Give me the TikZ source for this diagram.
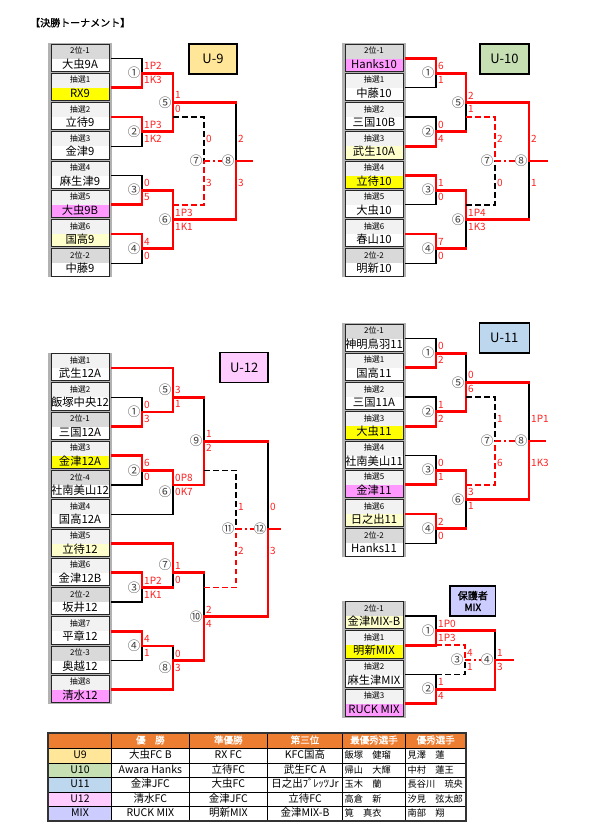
\documentclass[tikz,border=0pt]{standalone}
\usepackage{fontspec}
\setmainfont{Noto Sans CJK JP}
\newfontfamily\jbold{Noto Sans CJK JP}[FakeBold=1.2]

\definecolor{lbA}{HTML}{F2F2F2}
\definecolor{lbB}{HTML}{D9D9D9}
\definecolor{tyel}{HTML}{FFFF00}
\definecolor{tpnk}{HTML}{FF99FF}
\definecolor{tcrm}{HTML}{FFFFCC}
\definecolor{scred}{HTML}{FF2020}
\definecolor{cu9}{HTML}{FFE699}
\definecolor{cu10}{HTML}{C6E0B4}
\definecolor{cu11}{HTML}{BDD7EE}
\definecolor{cu12}{HTML}{FFCCFF}
\definecolor{cmix}{HTML}{CCCCFF}
\definecolor{hdr}{HTML}{ED7D31}

\tikzset{
  lbl/.style={anchor=north, minimum width=58pt, minimum height=14.5pt, inner sep=0pt, outer xsep=3pt, outer ysep=0pt, font=\fontsize{8}{8.5}\selectfont, text height=5.8pt, text depth=1pt},
  nm/.style={anchor=north, minimum width=58pt, minimum height=12.75pt, inner sep=0pt, outer xsep=3pt, outer ysep=0pt, font=\fontsize{11.3}{12}\selectfont, text height=8pt, text depth=1.5pt},
  blk/.style={draw=black!85, line width=0.7pt},
  col/.style={fill=gray!60},
  ln/.style={draw=black, line width=1.2pt, line cap=rect},
  wn/.style={draw=red, line width=2.8pt, line cap=rect},
  dl/.style={draw=black, line width=1.7pt, dash pattern=on 5.5pt off 3.5pt},
  dw/.style={draw=red, line width=1.7pt, dash pattern=on 5.5pt off 3.5pt},
  lk/.style={draw=red, line width=1.7pt, dash pattern=on 6pt off 3pt on 1.5pt off 3pt},
  sc/.style={anchor=west, text=scred, inner sep=0pt, font=\fontsize{10}{10}\selectfont},
  mno/.style={anchor=east, inner sep=0pt, text=black!75, font=\fontsize{12.5}{12.5}\selectfont},
  ttl/.style={draw=black, line width=1.5pt, minimum height=30pt, inner sep=0pt, font=\fontsize{13}{13}\selectfont},
  tg/.style={draw=black, line width=0.6pt},
  tb/.style={draw=black!80, line width=2pt},
  th/.style={inner sep=0pt, text=white, font=\jbold\fontsize{9.5}{10}\selectfont, text height=7pt, text depth=1.5pt},
  td/.style={inner sep=0pt, font=\fontsize{10.5}{11}\selectfont, text height=7.5pt, text depth=1.5pt},
  tn/.style={anchor=west, inner sep=0pt, font=\fontsize{9.2}{10}\selectfont, text height=7.5pt, text depth=1.5pt},
}

\begin{document}
\begin{tikzpicture}[x=1pt, y=-1pt]
\useasboundingbox (0,0) rectangle (592,833);

\node[anchor=west, inner sep=0pt, font=\jbold\fontsize{10}{10}\selectfont] (head) at (30,22.7) {【決勝トーナメント】};

% ---------- U-9 ----------
\fill[col] (48,43) rectangle (112,277);
\foreach \lab/\nm/\lf/\nf [count=\i] in {2位-1/大虫9A/lbB/white, 抽選1/RX9/lbA/tyel, 抽選2/立待9/lbA/white, 抽選3/金津9/lbA/white, 抽選4/麻生津9/lbA/white, 抽選5/大虫9B/lbA/tpnk, 抽選6/国高9/lbA/tcrm, 2位-2/中藤9/lbB/white}{
  \pgfmathsetmacro\tp{43+29.25*(\i-1)}
  \node[lbl, fill=\lf] (u9l\i) at (80,{\tp+1}) {\lab};
  \node[nm, fill=\nf] (u9t\i) at (80,{\tp+15.5}) {\nm};
  \draw[blk] (51,{\tp+1}) rectangle (109,{\tp+28.25});
}
\node[ttl, fill=cu9, minimum width=48pt] (u9hd) at (213,59) {U-9};
\coordinate (u9j1) at (142,73.1);
\coordinate (u9j2) at (142,131.6);
\coordinate (u9j3) at (142,190.1);
\coordinate (u9j4) at (142,248.6);
\coordinate (u9j5) at (173,102.4);
\coordinate (u9j6) at (173,219.4);
\coordinate (u9j7) at (204,160.9);
\coordinate (u9j8) at (236,160.9);
\coordinate (u9q5) at (173,117);
\coordinate (u9q6) at (173,204.75);
\coordinate (u9e) at (252,160.9);
\draw[ln] (u9t1.north east) -| (u9j1);
\draw[ln] (u9t4.north east) -| (u9j2);
\draw[ln] (u9t5.north east) -| (u9j3);
\draw[ln] (u9t8.north east) -| (u9j4);
\draw[ln] (u9j5 -| u9j8) -- (u9j8);
\draw[wn] (u9t2.north east) -| (u9j1);
\draw[wn] (u9t3.north east) -| (u9j2);
\draw[wn] (u9t6.north east) -| (u9j3);
\draw[wn] (u9t7.north east) -| (u9j4);
\draw[wn] (u9j1) -| (u9j5);
\draw[wn] (u9j2) -| (u9j5);
\draw[wn] (u9j3) -| (u9j6);
\draw[wn] (u9j4) -| (u9j6);
\draw[wn] (u9j5) -- (u9j5 -| u9j8);
\draw[wn] (u9j6) -| (u9j8);
\draw[wn] (u9j8) -- (u9e);
\draw[dl] (u9q5) -| (u9j7);
\draw[dw] (u9q6) -| (u9j7);
\foreach \j/\g in {1/①, 2/②, 3/③, 4/④, 5/⑤, 6/⑥, 7/⑦, 8/⑧}
  \node[mno] (u9m\j) at ([xshift=-1.5pt]u9j\j) {\g};
\draw[lk] (u9j7) -- (u9m8.west);
\foreach \j/\a/\b/\d in {1/1P2/1K3/7, 2/1P3/1K2/7, 3/0/5/7, 4/4/0/7, 5/1/0/7, 6/1P3/1K1/7, 7/0/3/22, 8/2/3/22}{
  \node[sc] (u9a\j) at ([xshift=2pt,yshift=\d pt]u9j\j) {\a};
  \node[sc] (u9b\j) at ([xshift=2pt,yshift=-\d pt]u9j\j) {\b};
}

% ---------- U-10 ----------
\fill[col] (342,43) rectangle (406,277);
\foreach \lab/\nm/\lf/\nf [count=\i] in {2位-1/Hanks10/lbB/tpnk, 抽選1/中藤10/lbA/white, 抽選2/三国10B/lbA/white, 抽選3/武生10A/lbA/tcrm, 抽選4/立待10/lbA/tyel, 抽選5/大虫10/lbA/white, 抽選6/春山10/lbA/white, 2位-2/明新10/lbB/white}{
  \pgfmathsetmacro\tp{43+29.25*(\i-1)}
  \node[lbl, fill=\lf] (u10l\i) at (374,{\tp+1}) {\lab};
  \node[nm, fill=\nf] (u10t\i) at (374,{\tp+15.5}) {\nm};
  \draw[blk] (345,{\tp+1}) rectangle (403,{\tp+28.25});
}
\node[ttl, fill=cu10, minimum width=49pt] (u10hd) at (504.5,59) {U-10};
\coordinate (u10j1) at (436,73.1);
\coordinate (u10j2) at (436,131.6);
\coordinate (u10j3) at (436,190.1);
\coordinate (u10j4) at (436,248.6);
\coordinate (u10j5) at (466,102.4);
\coordinate (u10j6) at (466,219.4);
\coordinate (u10j7) at (495,160.9);
\coordinate (u10j8) at (529,160.9);
\coordinate (u10q5) at (466,117);
\coordinate (u10q6) at (466,204.75);
\coordinate (u10e) at (547,160.9);
\draw[ln] (u10t2.north east) -| (u10j1);
\draw[ln] (u10t3.north east) -| (u10j2);
\draw[ln] (u10t6.north east) -| (u10j3);
\draw[ln] (u10t8.north east) -| (u10j4);
\draw[ln] (u10j2 -| u10j5) -- (u10j5);
\draw[ln] (u10j4 -| u10j6) -- (u10j6);
\draw[ln] (u10j6 -| u10j8) -- (u10j8);
\draw[wn] (u10t1.north east) -| (u10j1);
\draw[wn] (u10t4.north east) -| (u10j2);
\draw[wn] (u10t5.north east) -| (u10j3);
\draw[wn] (u10t7.north east) -| (u10j4);
\draw[wn] (u10j1) -| (u10j5);
\draw[wn] (u10j2) -- (u10j2 -| u10j5);
\draw[wn] (u10j3) -| (u10j6);
\draw[wn] (u10j4) -- (u10j4 -| u10j6);
\draw[wn] (u10j5) -| (u10j8);
\draw[wn] (u10j6) -- (u10j6 -| u10j8);
\draw[wn] (u10j8) -- (u10e);
\draw[dl] (u10q6) -| (u10j7);
\draw[dw] (u10q5) -| (u10j7);
\foreach \j/\g in {1/①, 2/②, 3/③, 4/④, 5/⑤, 6/⑥, 7/⑦, 8/⑧}
  \node[mno] (u10m\j) at ([xshift=-1.5pt]u10j\j) {\g};
\draw[lk] (u10j7) -- (u10m8.west);
\foreach \j/\a/\b/\d in {1/6/1/7, 2/0/4/7, 3/1/0/7, 4/7/0/7, 5/2/1/7, 6/1P4/1K3/7, 7/2/0/22, 8/2/1/22}{
  \node[sc] (u10a\j) at ([xshift=2pt,yshift=\d pt]u10j\j) {\a};
  \node[sc] (u10b\j) at ([xshift=2pt,yshift=-\d pt]u10j\j) {\b};
}

% ---------- U-12 ----------
\fill[col] (48,352.5) rectangle (112,703.5);
\foreach \lab/\nm/\lf/\nf [count=\i] in {抽選1/武生12A/lbA/white, 抽選2/飯塚中央12/lbA/white, 2位-1/三国12A/lbB/white, 抽選3/金津12A/lbA/tyel, 2位-4/社南美山12/lbB/white, 抽選4/国高12A/lbA/white, 抽選5/立待12/lbA/tcrm, 抽選6/金津12B/lbA/white, 2位-2/坂井12/lbB/white, 抽選7/平章12/lbA/white, 2位-3/奥越12/lbB/white, 抽選8/清水12/lbA/tpnk}{
  \pgfmathsetmacro\tp{352.5+29.25*(\i-1)}
  \node[lbl, fill=\lf] (u12l\i) at (80,{\tp+1}) {\lab};
  \node[nm, fill=\nf] (u12t\i) at (80,{\tp+15.5}) {\nm};
  \draw[blk] (51,{\tp+1}) rectangle (109,{\tp+28.25});
}
\node[ttl, fill=cu12, minimum width=48pt] (u12hd) at (244.2,367.7) {U-12};
\coordinate (u12j1) at (142,411.9);
\coordinate (u12j2) at (142,470.4);
\coordinate (u12j3) at (142,587.4);
\coordinate (u12j4) at (142,645.9);
\coordinate (u12j5) at (173,397.25);
\coordinate (u12j6) at (173,485);
\coordinate (u12j7) at (173,572.75);
\coordinate (u12j8) at (173,660.5);
\coordinate (u12j9) at (204,441.1);
\coordinate (u12j10) at (204,616.6);
\coordinate (u12j11) at (236,528.9);
\coordinate (u12j12) at (268,528.9);
\coordinate (u12q9) at (204,470.4);
\coordinate (u12q10) at (204,587.4);
\coordinate (u12e) at (280,528.9);
\draw[ln] (u12t2.north east) -| (u12j1);
\draw[ln] (u12t5.north east) -| (u12j2);
\draw[ln] (u12t6.north east) -| (u12j6);
\draw[ln] (u12t9.north east) -| (u12j3);
\draw[ln] (u12t11.north east) -| (u12j4);
\draw[ln] (u12j3 -| u12j7) -- (u12j7);
\draw[ln] (u12j4 -| u12j8) -- (u12j8);
\draw[ln] (u12j5 -| u12j9) -- (u12j9);
\draw[ln] (u12j7 -| u12j10) -- (u12j10);
\draw[ln] (u12j9 -| u12j12) -- (u12j12);
\draw[wn] (u12t1.north east) -| (u12j5);
\draw[wn] (u12t3.north east) -| (u12j1);
\draw[wn] (u12t4.north east) -| (u12j2);
\draw[wn] (u12t7.north east) -| (u12j7);
\draw[wn] (u12t8.north east) -| (u12j3);
\draw[wn] (u12t10.north east) -| (u12j4);
\draw[wn] (u12t12.north east) -| (u12j8);
\draw[wn] (u12j1) -| (u12j5);
\draw[wn] (u12j2) -| (u12j6);
\draw[wn] (u12j3) -- (u12j3 -| u12j7);
\draw[wn] (u12j4) -- (u12j4 -| u12j8);
\draw[wn] (u12j5) -- (u12j5 -| u12j9);
\draw[wn] (u12j6) -| (u12j9);
\draw[wn] (u12j7) -- (u12j7 -| u12j10);
\draw[wn] (u12j8) -| (u12j10);
\draw[wn] (u12j9) -- (u12j9 -| u12j12);
\draw[wn] (u12j10) -| (u12j12);
\draw[wn] (u12j12) -- (u12e);
\draw[dl] (u12q9) -| (u12j11);
\draw[dw] (u12q10) -| (u12j11);
\foreach \j/\g/\dy in {1/①/0, 2/②/0, 3/③/0, 4/④/0, 5/⑤/8, 6/⑥/-7, 7/⑦/8, 8/⑧/-7, 9/⑨/0, 10/⑩/0, 11/⑪/0, 12/⑫/0}
  \node[mno] (u12m\j) at ([xshift=-1.5pt,yshift=\dy pt]u12j\j) {\g};
\draw[lk] (u12j11) -- (u12m12.west);
\foreach \j/\a/\b/\d in {1/0/3/7, 2/6/0/7, 3/1P2/1K1/7, 4/4/1/7, 5/3/1/7, 6/0P8/0K7/7, 7/1/0/7, 8/0/3/7, 9/1/2/7, 10/2/4/7, 11/1/2/22, 12/0/3/22}{
  \node[sc] (u12a\j) at ([xshift=2pt,yshift=\d pt]u12j\j) {\a};
  \node[sc] (u12b\j) at ([xshift=2pt,yshift=-\d pt]u12j\j) {\b};
}

% ---------- U-11 ----------
\fill[col] (342,323) rectangle (406,557);
\foreach \lab/\nm/\lf/\nf [count=\i] in {2位-1/神明鳥羽11/lbB/white, 抽選1/国高11/lbA/white, 抽選2/三国11A/lbA/white, 抽選3/大虫11/lbA/tyel, 抽選4/社南美山11/lbA/white, 抽選5/金津11/lbA/tpnk, 抽選6/日之出11/lbA/tcrm, 2位-2/Hanks11/lbB/white}{
  \pgfmathsetmacro\tp{323+29.25*(\i-1)}
  \node[lbl, fill=\lf] (u11l\i) at (374,{\tp+1}) {\lab};
  \node[nm, fill=\nf] (u11t\i) at (374,{\tp+15.5}) {\nm};
  \draw[blk] (345,{\tp+1}) rectangle (403,{\tp+28.25});
}
\node[ttl, fill=cu11, minimum width=50pt] (u11hd) at (504.3,338) {U-11};
\coordinate (u11j1) at (436,353.1);
\coordinate (u11j2) at (436,411.6);
\coordinate (u11j3) at (436,470.1);
\coordinate (u11j4) at (436,528.6);
\coordinate (u11j5) at (466,382.4);
\coordinate (u11j6) at (466,499.4);
\coordinate (u11j7) at (495,440.9);
\coordinate (u11j8) at (529,440.9);
\coordinate (u11q5) at (466,397);
\coordinate (u11q6) at (466,484.8);
\coordinate (u11e) at (545,440.9);
\draw[ln] (u11t1.north east) -| (u11j1);
\draw[ln] (u11t3.north east) -| (u11j2);
\draw[ln] (u11t5.north east) -| (u11j3);
\draw[ln] (u11t8.north east) -| (u11j4);
\draw[ln] (u11j1 -| u11j5) -- (u11j5);
\draw[ln] (u11j4 -| u11j6) -- (u11j6);
\draw[ln] (u11j5 -| u11j8) -- (u11j8);
\draw[wn] (u11t2.north east) -| (u11j1);
\draw[wn] (u11t4.north east) -| (u11j2);
\draw[wn] (u11t6.north east) -| (u11j3);
\draw[wn] (u11t7.north east) -| (u11j4);
\draw[wn] (u11j1) -- (u11j1 -| u11j5);
\draw[wn] (u11j2) -| (u11j5);
\draw[wn] (u11j3) -| (u11j6);
\draw[wn] (u11j4) -- (u11j4 -| u11j6);
\draw[wn] (u11j5) -- (u11j5 -| u11j8);
\draw[wn] (u11j6) -| (u11j8);
\draw[wn] (u11j8) -- (u11e);
\draw[dl] (u11q5) -| (u11j7);
\draw[dw] (u11q6) -| (u11j7);
\foreach \j/\g in {1/①, 2/②, 3/③, 4/④, 5/⑤, 6/⑥, 7/⑦, 8/⑧}
  \node[mno] (u11m\j) at ([xshift=-1.5pt]u11j\j) {\g};
\draw[lk] (u11j7) -- (u11m8.west);
\foreach \j/\a/\b/\d in {1/0/2/7, 2/1/2/7, 3/0/1/7, 4/2/0/7, 5/0/6/7, 6/3/1/7, 7/1/6/22, 8/1P1/1K3/22}{
  \node[sc] (u11a\j) at ([xshift=2pt,yshift=\d pt]u11j\j) {\a};
  \node[sc] (u11b\j) at ([xshift=2pt,yshift=-\d pt]u11j\j) {\b};
}

% ---------- MIX ----------
\fill[col] (342,600.5) rectangle (406,717.5);
\foreach \lab/\nm/\lf/\nf [count=\i] in {2位-1/金津MIX-B/lbB/tcrm, 抽選1/明新MIX/lbA/tyel, 抽選2/麻生津MIX/lbA/white, 抽選3/RUCK MIX/lbA/tpnk}{
  \pgfmathsetmacro\tp{600.5+29.25*(\i-1)}
  \node[lbl, fill=\lf] (mxl\i) at (374,{\tp+1}) {\lab};
  \node[nm, fill=\nf] (mxt\i) at (374,{\tp+15.5}) {\nm};
  \draw[blk] (345,{\tp+1}) rectangle (403,{\tp+28.25});
}
\node[ttl, fill=cmix, minimum width=45.7pt, align=center, font=\jbold\fontsize{10}{11.5}\selectfont] (mxhd) at (472.8,601) {保護者\\MIX};
\coordinate (mxj1) at (436,630.6);
\coordinate (mxj2) at (436,689.1);
\coordinate (mxj3) at (465,659.9);
\coordinate (mxj4) at (495,659.9);
\coordinate (mxqa) at (436,645.25);
\coordinate (mxqb) at (436,674.5);
\coordinate (mxe) at (513,659.9);
\draw[ln] (mxt1.north east) -| (mxj1);
\draw[ln] (mxt3.north east) -| (mxj2);
\draw[ln] (mxj1 -| mxj4) -- (mxj4);
\draw[wn] (mxt2.north east) -| (mxj1);
\draw[wn] (mxt4.north east) -| (mxj2);
\draw[wn] (mxj1) -- (mxj1 -| mxj4);
\draw[wn] (mxj2) -| (mxj4);
\draw[wn] (mxj4) -- (mxe);
\draw[dl] (mxqb) -| (mxj3);
\draw[dw] (mxqa) -| (mxj3);
\foreach \j/\g in {1/①, 2/②, 3/③, 4/④}
  \node[mno] (mxm\j) at ([xshift=-1.5pt]mxj\j) {\g};
\draw[lk] (mxj3) -- (mxm4.west);
\foreach \j/\a/\b in {1/1P0/1P3, 2/1/4, 3/4/1, 4/1/3}{
  \node[sc] (mxa\j) at ([xshift=2pt,yshift=7pt]mxj\j) {\a};
  \node[sc] (mxb\j) at ([xshift=2pt,yshift=-7pt]mxj\j) {\b};
}

% ---------- results table ----------
\fill[hdr] (48.3,733.3) rectangle (465.7,748.3);
\foreach \c [count=\i] in {cu9, cu10, cu11, cu12, cmix}
  \fill[\c] (48.3,{748.3+14.5*(\i-1)}) rectangle (111.7,{748.3+14.5*\i});
\foreach \y in {748.3, 762.8, 777.3, 791.8, 806.3}
  \draw[tg] (48.3,\y) -- (465.7,\y);
\foreach \x in {111.7, 189, 267.7, 405.7}
  \draw[tg] (\x,733.3) -- (\x,820.8);
\draw[tg, line width=1.5pt] (342.3,733.3) -- (342.3,820.8);
\draw[tb] (48.3,733.3) rectangle (465.7,820.8);
\node[th] (th1) at (150.35,740.8) {優　勝};
\node[th] (th2) at (228.35,740.8) {準優勝};
\node[th] (th3) at (305,740.8) {第三位};
\node[th] (th4) at (374,740.8) {最優秀選手};
\node[th] (th5) at (435.7,740.8) {優秀選手};
\foreach \r/\a/\b/\c/\d/\e [count=\i] in {U9/大虫FC B/RX FC/KFC国高/飯塚　健瑠/見澤　蓮, U10/Awara Hanks/立待FC/武生FC A/帰山　大輝/中村　蓮王, U11/金津JFC/大虫FC/日之出ﾌﾞﾚｯﾂJr/玉木　蘭/長谷川　琉央, U12/清水FC/金津JFC/立待FC/高倉　新/汐見　弦太郎, MIX/RUCK MIX/明新MIX/金津MIX-B/筧　真衣/南部　翔}{
  \pgfmathsetmacro\yy{748.3+14.5*(\i-0.5)}
  \node[td] (tr\i) at (80,\yy) {\r};
  \node[td] (ta\i) at (150.35,\yy) {\a};
  \node[td] (tb\i) at (228.35,\yy) {\b};
  \node[td] (tc\i) at (305,\yy) {\c};
  \node[tn] (te\i) at (344.5,\yy) {\d};
  \node[tn] (tf\i) at (407.5,\yy) {\e};
}
\end{tikzpicture}
\end{document}
